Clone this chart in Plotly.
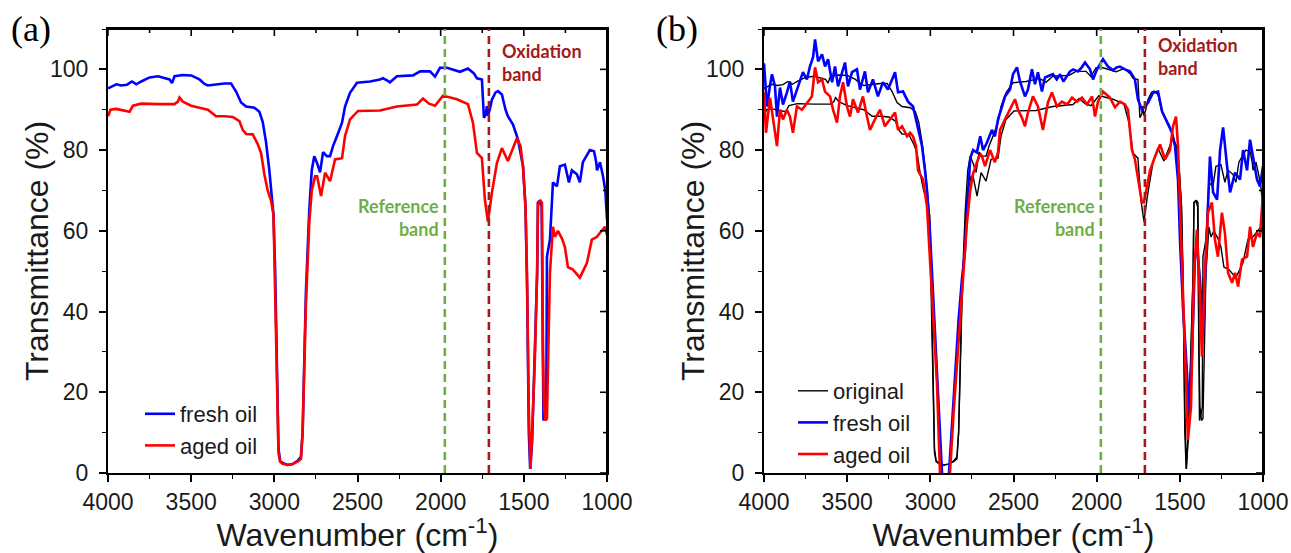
import plotly.graph_objects as go

# ---------------- data ----------------
wn_fresh_a = [4000,3970,3950,3920,3886,3856,3830,3800,3750,3700,3660,3630,3615,3600,3550,3500,3450,3420,3400,3350,3300,3260,3230,3200,3170,3120,3090,3070,3050,3030,3015,3005,2995,2985,2975,2965,2950,2920,2890,2860,2840,2830,2820,2810,2800,2790,2775,2760,2745,2725,2707,2685,2665,2647,2623,2593,2575,2545,2503,2425,2365,2347,2320,2305,2263,2166,2124,2064,2034,2004,1962,1920,1884,1836,1800,1782,1752,1740,1728,1722,1716,1705,1692,1670,1655,1632,1610,1596,1565,1535,1505,1490,1480,1470,1462,1450,1435,1420,1415,1405,1393,1387,1382,1370,1365,1361,1343,1325,1301,1283,1253,1229,1211,1181,1163,1145,1103,1078,1065,1060,1042,1024,1010,1000]
t_fresh_a = [95.3,95.8,96.3,96.0,96.2,97.0,96.3,97.0,98.0,98.3,97.8,97.5,96.6,98.3,98.6,98.5,97.5,96.4,96.0,96.3,96.5,96.5,94.5,91.8,90.8,90.5,89.5,87.0,82.0,75.0,68.0,64.0,50.0,25.0,6.0,3.0,2.5,2.0,2.2,3.0,4.0,10.0,30.0,45.0,55.0,65.0,75.0,78.5,77.0,74.5,79.5,78.5,78.5,81.0,83.5,86.8,90.8,94.2,96.7,97.0,97.5,97.8,97.2,96.8,98.3,98.5,99.5,99.5,98.2,100.4,100.4,99.8,99.4,100.2,99.0,97.8,97.5,88.0,89.0,90.9,88.5,90.0,92.5,94.3,94.6,93.8,90.0,88.4,86.3,82.6,76.0,66.0,45.0,10.0,1.0,8.0,30.0,49.6,67.0,67.5,66.0,30.0,13.0,15.0,16.4,53.6,57.8,72.0,71.0,76.0,76.4,72.0,75.0,74.0,72.0,77.0,80.0,79.7,77.0,75.0,77.0,73.5,70.0,62.8]

wn_aged_a = [4000,3985,3950,3900,3870,3850,3800,3700,3600,3580,3570,3550,3500,3450,3400,3350,3300,3250,3210,3190,3170,3130,3100,3080,3060,3040,3020,3005,2995,2985,2975,2965,2950,2920,2890,2860,2840,2830,2820,2810,2800,2790,2775,2755,2743,2730,2719,2695,2665,2635,2593,2575,2545,2497,2365,2263,2142,2106,2070,2034,1986,1902,1836,1806,1782,1752,1734,1716,1692,1662,1632,1596,1541,1520,1505,1490,1481,1470,1460,1450,1433,1420,1415,1400,1391,1385,1379,1370,1361,1343,1325,1313,1295,1270,1253,1235,1205,1163,1121,1091,1060,1042,1012,1000]
t_aged_a = [88.4,90.0,90.2,89.8,89.5,91.0,91.5,91.4,91.4,92.0,93.0,92.0,91.0,90.5,90.0,88.4,88.4,88.2,87.2,85.0,84.0,83.9,81.5,79.3,74.0,70.0,67.5,64.0,45.0,25.0,5.0,2.8,2.3,2.0,2.2,2.8,3.5,10.0,28.0,42.0,52.0,62.0,70.0,73.5,73.5,71.0,68.6,74.4,72.3,77.7,78.0,83.5,87.6,89.7,89.8,90.8,91.3,92.8,91.5,91.0,93.5,92.6,91.4,86.8,79.3,78.0,67.7,62.3,69.4,76.8,80.5,77.3,83.0,81.0,76.0,66.0,49.6,15.0,1.0,10.0,29.0,50.0,67.0,67.5,67.0,30.0,16.4,13.0,13.5,49.6,61.0,58.5,60.0,58.0,56.0,51.0,50.4,48.4,52.0,57.8,58.5,59.5,61.0,59.0]

wn_fresh_b = [4000,3982,3964,3952,3934,3922,3904,3886,3862,3844,3826,3796,3766,3742,3724,3705,3693,3675,3651,3633,3615,3591,3573,3555,3531,3513,3495,3471,3441,3423,3393,3375,3345,3315,3285,3255,3212,3194,3164,3134,3104,3074,3050,3032,3020,3002,2984,2960,2940,2920,2900,2880,2860,2830,2810,2792,2780,2770,2760,2743,2720,2700,2683,2660,2630,2612,2593,2569,2551,2521,2503,2479,2461,2431,2413,2389,2371,2353,2329,2311,2293,2263,2240,2220,2200,2178,2160,2142,2112,2090,2070,2040,2022,1998,1962,1932,1902,1880,1860,1830,1800,1770,1752,1728,1710,1691,1661,1631,1607,1577,1547,1529,1511,1499,1481,1457,1445,1427,1409,1397,1379,1361,1337,1319,1300,1276,1258,1240,1216,1198,1168,1138,1120,1096,1078,1060,1036,1018,1000]
t_fresh_b = [101.5,90.8,96.0,98.8,95.8,88.3,95.5,91.3,94.3,97.0,92.0,95.8,99.3,97.5,100.7,103.0,107.4,102.0,103.7,100.7,102.5,96.8,100.7,95.8,99.3,101.7,95.8,99.3,100.0,95.0,99.5,94.3,97.5,93.3,96.8,95.0,99.3,94.3,94.5,92.0,90.8,85.0,81.0,75.0,70.0,59.5,45.0,25.0,8.0,-8.0,-8.0,5.0,20.0,38.0,48.0,55.0,65.0,72.0,78.0,80.0,79.4,83.4,80.0,81.8,85.0,83.4,87.6,90.8,93.3,95.0,98.8,100.5,97.0,93.3,95.0,100.0,96.3,99.3,94.5,98.0,98.3,98.8,97.5,98.8,97.0,98.3,99.5,100.0,99.5,100.5,101.7,100.0,97.5,100.0,102.5,100.7,99.8,100.5,100.7,100.0,99.5,97.5,92.6,90.0,90.8,91.7,94.2,94.5,89.6,86.8,84.3,81.0,72.7,57.8,41.0,24.8,15.6,28.8,53.6,56.0,48.0,34.7,57.8,78.4,69.5,67.7,80.0,85.6,76.0,69.5,74.4,72.7,80.0,75.0,82.6,78.4,72.7,71.0,76.0]

wn_aged_b = [4000,3988,3964,3946,3922,3904,3886,3862,3844,3826,3802,3772,3742,3712,3693,3675,3651,3633,3603,3585,3561,3543,3525,3501,3483,3465,3435,3405,3381,3363,3333,3303,3273,3243,3212,3194,3170,3140,3122,3104,3086,3074,3044,3020,3000,2980,2960,2942,2920,2900,2882,2860,2830,2804,2780,2760,2744,2720,2700,2689,2671,2641,2612,2593,2581,2551,2521,2491,2473,2449,2431,2413,2383,2353,2323,2293,2269,2239,2209,2178,2148,2118,2088,2058,2028,2010,1992,1962,1920,1890,1860,1830,1812,1788,1770,1752,1728,1716,1698,1679,1649,1619,1589,1559,1541,1523,1511,1487,1469,1451,1433,1415,1397,1385,1367,1349,1331,1307,1289,1271,1247,1229,1210,1186,1168,1150,1126,1096,1078,1060,1036,1018,1000]
t_aged_b = [94.3,84.3,93.0,88.3,81.0,90.0,87.6,90.0,88.3,84.3,90.8,90.0,91.8,93.3,100.5,96.8,97.5,94.5,93.3,90.0,86.8,93.3,96.8,90.8,88.3,92.6,89.3,93.3,88.3,85.0,87.6,90.0,85.9,87.6,89.3,85.0,85.9,83.4,84.3,83.4,81.0,75.0,72.7,66.0,52.0,38.0,22.0,0.0,-10.0,-10.0,0.0,15.0,33.0,50.0,62.0,70.0,74.0,77.0,79.0,78.4,76.0,80.0,77.0,79.4,85.0,87.6,90.0,92.6,90.0,88.0,85.9,89.3,93.3,90.8,85.0,91.8,94.3,90.8,92.0,91.3,93.0,92.0,93.0,91.3,93.3,88.3,92.0,94.5,93.0,90.6,92.0,91.3,90.0,80.0,77.7,72.7,67.0,67.0,71.0,75.0,78.4,81.4,77.7,80.0,85.9,88.3,81.0,53.6,28.8,8.2,16.4,49.6,60.3,49.6,28.8,49.6,64.5,67.0,57.8,53.6,64.5,59.5,49.6,47.1,49.6,46.2,52.9,53.6,61.0,56.0,59.5,58.5,69.5]

ref_band = 1975
ox_band = 1710
x_ticks = [4000, 3500, 3000, 2500, 2000, 1500, 1000]
x_minor = [3750, 3250, 2750, 2250, 1750, 1250]
y_ticks = [0, 20, 40, 60, 80, 100]
y_minor = [10, 30, 50, 70, 90, 110]
panel_labels = ["(a)", "(b)"]
legend_names_a = ["fresh oil", "aged oil"]
legend_names_b = ["original", "fresh oil", "aged oil"]
x_title = "Wavenumber (cm<sup>-1</sup>)"
y_title = "Transmittance (%)"

# ---------------- style ----------------
W, H = 1291, 553
BLUE = "#0000FF"
RED = "#FF0000"
GREEN = "#70AD47"
DRED = "#A31A1A"
TICKFONT = dict(family="Liberation Sans, Arial", size=23, color="#1a1a1a")
TITLEFONT = dict(family="Liberation Sans, Arial", size=32, color="#1a1a1a")
LEGFONT = dict(family="Liberation Sans, Arial", size=22, color="#1a1a1a")

dom_a = [108 / W, 607 / W]
dom_b = [764 / W, 1263 / W]
dom_y = [1 - 473 / H, 1 - 29 / H]

fig = go.Figure()

# panel (a)
fig.add_trace(go.Scatter(x=wn_fresh_a, y=t_fresh_a, mode="lines", name=legend_names_a[0],
                         line=dict(color=BLUE, width=2.6), xaxis="x", yaxis="y", legend="legend"))
fig.add_trace(go.Scatter(x=wn_aged_a, y=t_aged_a, mode="lines", name=legend_names_a[1],
                         line=dict(color=RED, width=2.6), xaxis="x", yaxis="y", legend="legend"))
# panel (b)
fig.add_trace(go.Scatter(x=wn_fresh_a, y=t_fresh_a, mode="lines", name=legend_names_b[0],
                         line=dict(color="black", width=1.4), xaxis="x2", yaxis="y2", legend="legend2"))
fig.add_trace(go.Scatter(x=wn_aged_a, y=t_aged_a, mode="lines", name=legend_names_b[0], showlegend=False,
                         line=dict(color="black", width=1.4), xaxis="x2", yaxis="y2", legend="legend2"))
fig.add_trace(go.Scatter(x=wn_fresh_b, y=t_fresh_b, mode="lines", name=legend_names_b[1],
                         line=dict(color=BLUE, width=2.6), xaxis="x2", yaxis="y2", legend="legend2"))
fig.add_trace(go.Scatter(x=wn_aged_b, y=t_aged_b, mode="lines", name=legend_names_b[2],
                         line=dict(color=RED, width=2.6), xaxis="x2", yaxis="y2", legend="legend2"))

def xmain(dom, anchor):
    return dict(domain=dom, anchor=anchor, range=[4000, 1000], tickvals=x_ticks, automargin=False,
                ticks="outside", ticklen=7, tickwidth=1.6, tickcolor="black",
                minor=dict(tickvals=x_minor, ticks="outside", ticklen=4, tickwidth=1.4, tickcolor="black"),
                showline=True, mirror=True, linecolor="black", linewidth=2, showgrid=False, zeroline=False,
                tickfont=TICKFONT,
                title=dict(text=x_title, font=TITLEFONT, standoff=4))

def ymain(dom, anchor):
    return dict(domain=dom, anchor=anchor, range=[0, 110], tickvals=y_ticks, automargin=False,
                ticks="outside", ticklen=7, tickwidth=1.6, tickcolor="black",
                minor=dict(tickvals=y_minor, ticks="outside", ticklen=4, tickwidth=1.4, tickcolor="black"),
                showline=True, mirror=True, linecolor="black", linewidth=2, showgrid=False, zeroline=False,
                tickfont=TICKFONT, ticklabelstandoff=6)

shapes = []
annotations = []
FRAME = dict(color="black", width=2)
for xr, yr, dom_x, ox_dy in (("x", "y", dom_a, 101.6), ("x2", "y2", dom_b, 103.2)):
    # frame: top and right edges (paper coordinates, not clipped)
    shapes.append(dict(type="line", xref="paper", yref="paper", x0=dom_x[0], x1=dom_x[1],
                       y0=dom_y[1], y1=dom_y[1], line=FRAME, layer="above"))
    shapes.append(dict(type="line", xref="paper", yref="paper", x0=dom_x[1], x1=dom_x[1],
                       y0=dom_y[0], y1=dom_y[1], line=FRAME, layer="above"))
    # inside ticks on the top and right edges
    for vals, ln in ((x_ticks, 7), (x_minor, 4)):
        for v in vals:
            shapes.append(dict(type="line", xref=xr, yref=yr + " domain", x0=v, x1=v,
                               ysizemode="pixel", yanchor=1, y0=0, y1=-ln,
                               line=dict(color="black", width=1.6), layer="above"))
    for vals, ln in ((y_ticks, 7), (y_minor, 4)):
        for v in vals:
            shapes.append(dict(type="line", xref=xr + " domain", yref=yr, y0=v, y1=v,
                               xsizemode="pixel", xanchor=1, x0=0, x1=-ln,
                               line=dict(color="black", width=1.6), layer="above"))
    # band markers
    shapes.append(dict(type="line", xref=xr, yref=yr + " domain",
                       x0=ref_band, x1=ref_band, y0=0, y1=1,
                       line=dict(color=GREEN, width=2.6, dash="8px,5px")))
    shapes.append(dict(type="line", xref=xr, yref=yr + " domain",
                       x0=ox_band, x1=ox_band, y0=0, y1=1,
                       line=dict(color=DRED, width=2.6, dash="8px,5px")))
    annotations.append(dict(x=ref_band, y=63.2, xref=xr, yref=yr, text="<b>Reference<br>band</b>",
                            showarrow=False, xanchor="right", yanchor="middle", align="right", xshift=-4,
                            font=dict(family="Lato, Open Sans", size=18, color=GREEN)))
    annotations.append(dict(x=ox_band, y=ox_dy, xref=xr, yref=yr, text="<b>Oxidation<br>band</b>",
                            showarrow=False, xanchor="left", yanchor="middle", align="left", xshift=11,
                            font=dict(family="Lato, Open Sans", size=18, color=DRED)))

for lab, px in zip(panel_labels, (31, 677)):
    annotations.append(dict(x=px / W, y=1 - 29 / H, xref="paper", yref="paper", text=lab,
                            showarrow=False, xanchor="center", yanchor="middle",
                            font=dict(family="Liberation Serif, Times New Roman", size=36, color="black")))

# y-axis titles (rotated), placed close to the tick labels as in the reference
for px in (37, 693):
    annotations.append(dict(x=px / W, y=1 - 251 / H, xref="paper", yref="paper", text=y_title,
                            textangle=-90, showarrow=False, xanchor="center", yanchor="middle",
                            font=TITLEFONT))

fig.update_layout(
    width=W, height=H, margin=dict(l=0, r=0, t=0, b=0, autoexpand=False),
    paper_bgcolor="white", plot_bgcolor="white",
    xaxis=xmain(dom_a, "y"), yaxis=ymain(dom_y, "x"),
    xaxis2=xmain(dom_b, "y2"), yaxis2=ymain(dom_y, "x2"),
    shapes=shapes, annotations=annotations,
    legend=dict(x=140 / W, y=1 - 393 / H, xanchor="left", yanchor="top", bgcolor="rgba(0,0,0,0)",
                font=LEGFONT, tracegroupgap=0, itemwidth=30),
    legend2=dict(x=793 / W, y=1 - 370 / H, xanchor="left", yanchor="top", bgcolor="rgba(0,0,0,0)",
                 font=LEGFONT, tracegroupgap=0, itemwidth=30),
    showlegend=True,
)

fig.write_html("out.html")
